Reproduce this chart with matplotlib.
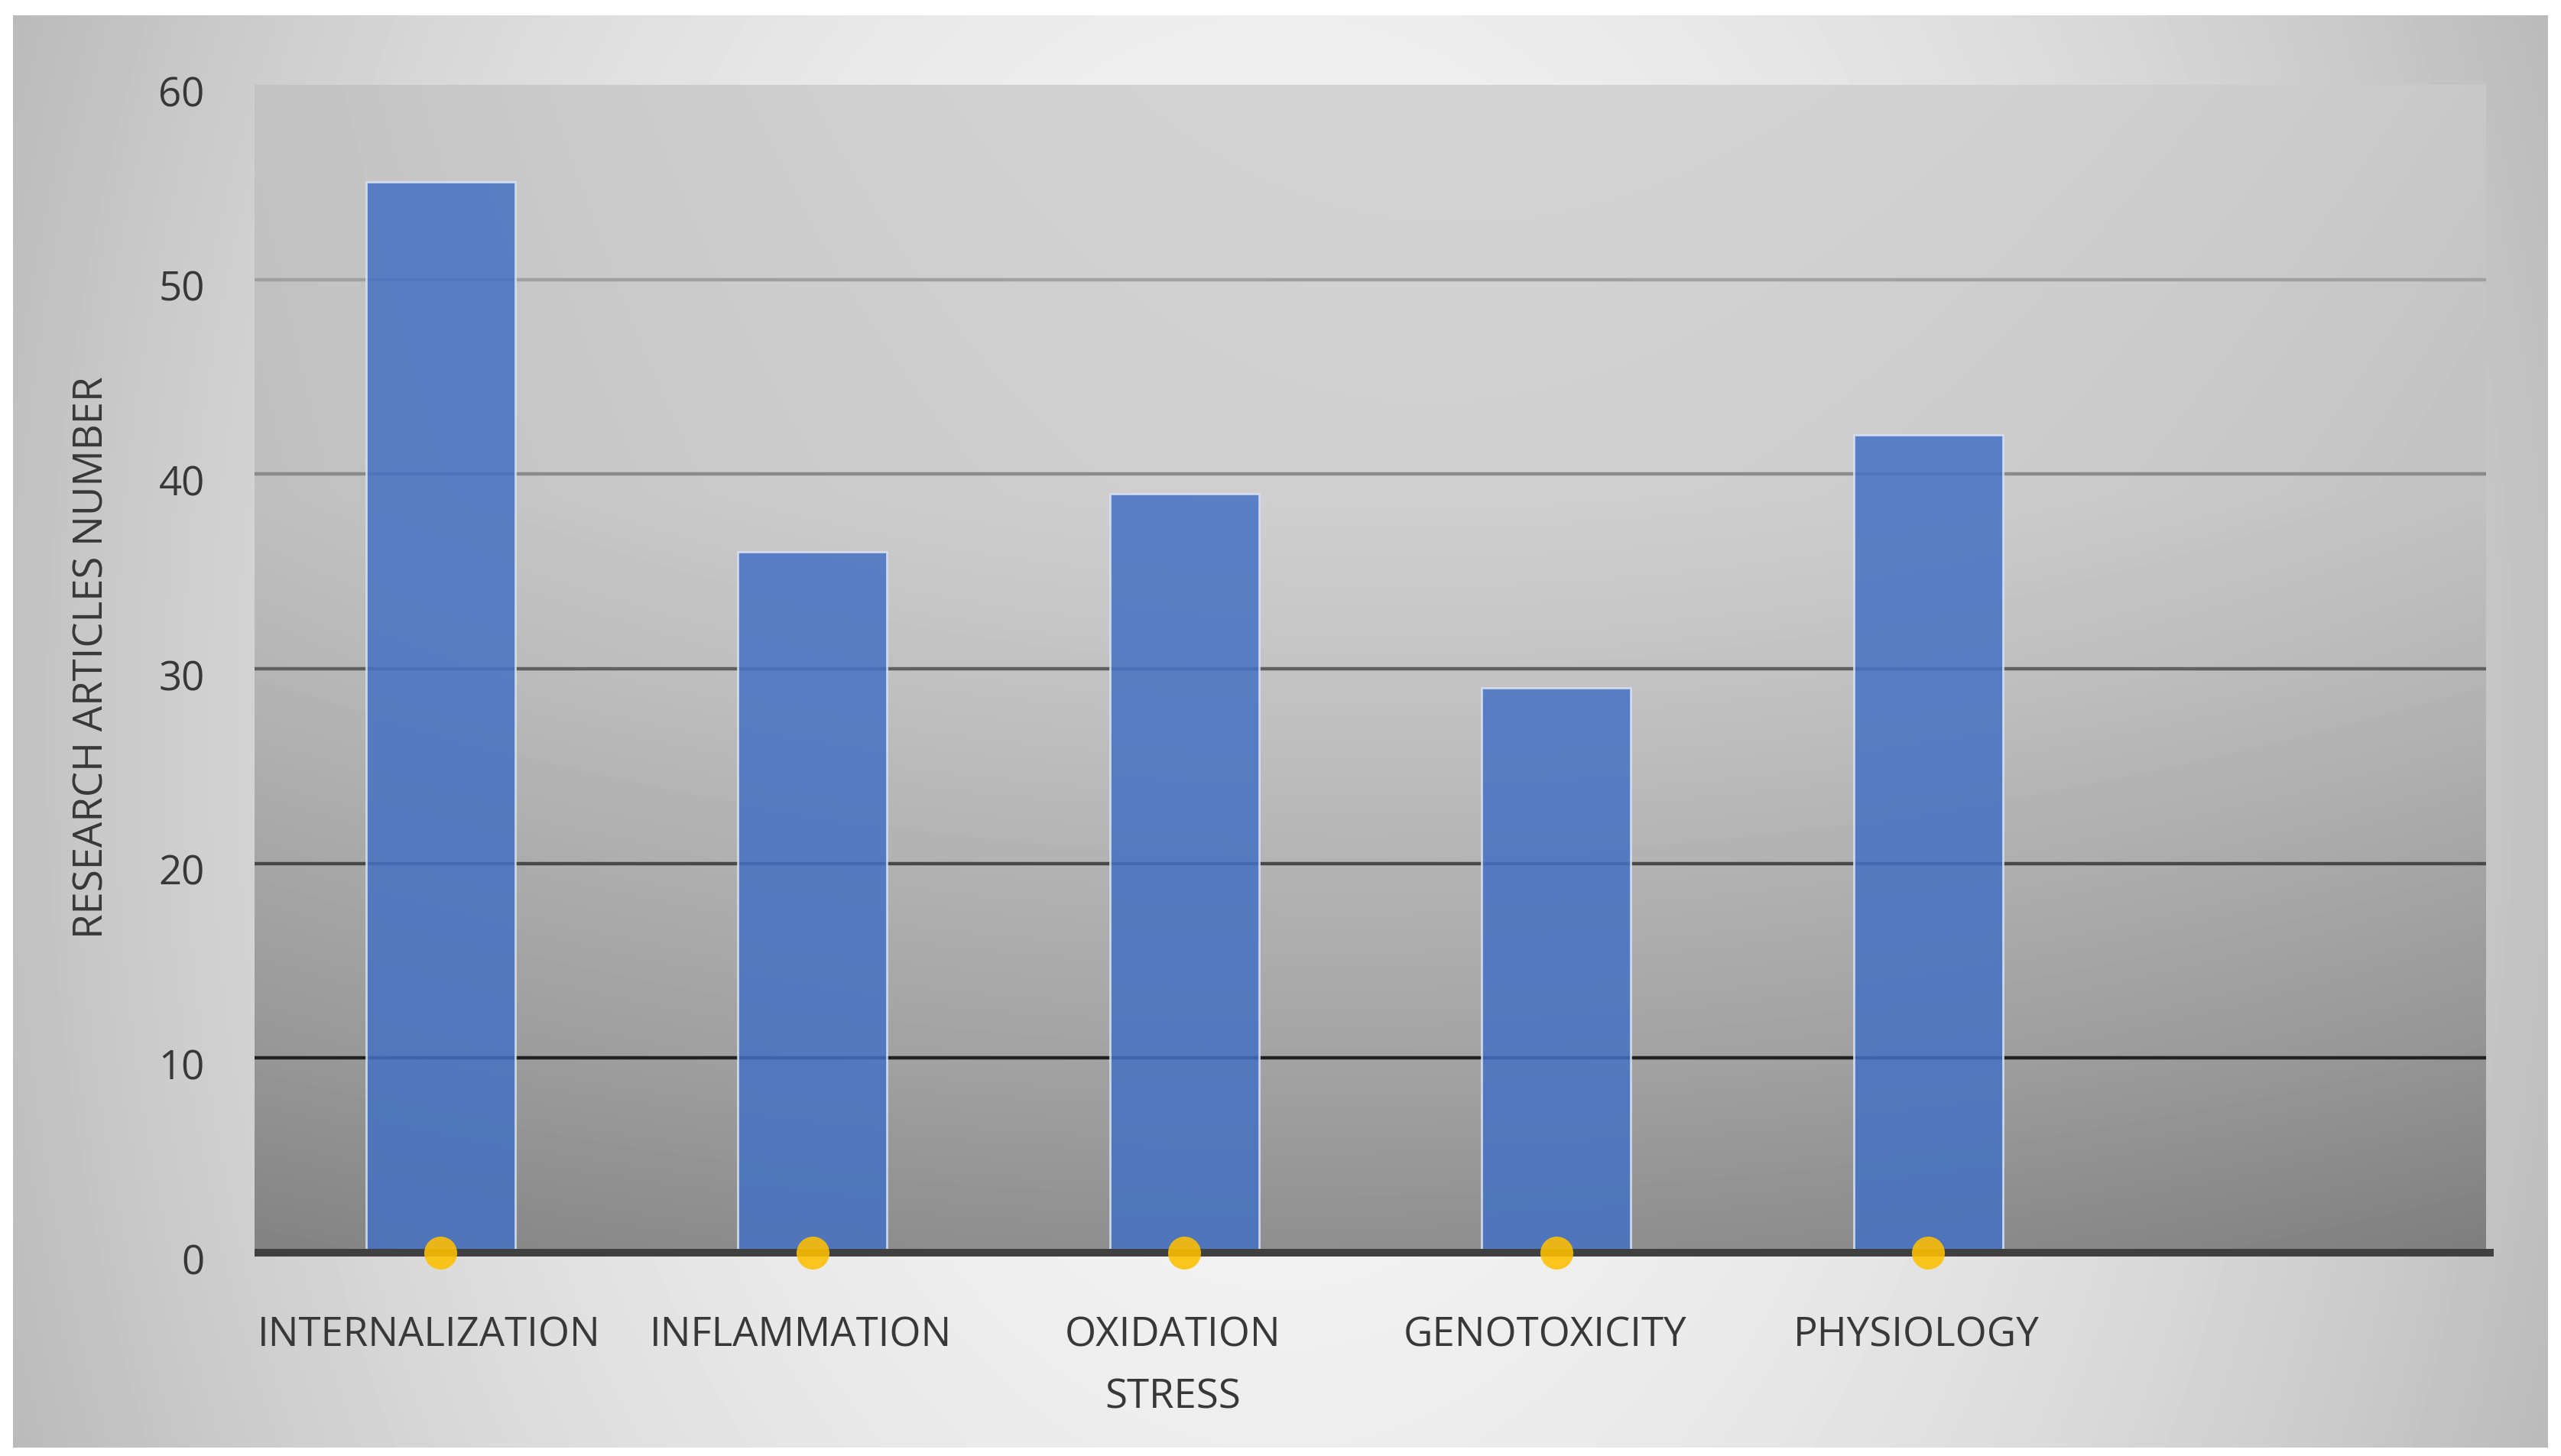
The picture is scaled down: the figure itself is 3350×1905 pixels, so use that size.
import matplotlib.pyplot as plt
import matplotlib.transforms as mtransforms
import numpy as np

categories = ["INTERNALIZATION", "INFLAMMATION", "OXIDATION\nSTRESS", "GENOTOXICITY", "PHYSIOLOGY"]
articles = [55, 36, 39, 29, 42]
zero_series = [0, 0, 0, 0, 0]
yticks = [0, 10, 20, 30, 40, 50, 60]

plt.rcParams['font.family'] = ['Open Sans', 'DejaVu Sans']
TEXT = '#383838'
W, H = 3350, 1906

fig = plt.figure(figsize=(W / 100, H / 100), dpi=100)
fig.patch.set_facecolor('white')

# chart area background: light in the middle, greyer to the sides
bg = fig.add_axes([17 / W, 1 - 1895 / H, (3333 - 17) / W, (1895 - 21) / H], zorder=-10)
xx, yy = np.meshgrid(np.linspace(-1, 1, 400), np.linspace(-1, 1, 240))
shade = 0.96 - 0.2 * xx ** 2 - 0.03 * yy ** 2
bg.imshow(shade, cmap='gray', vmin=0, vmax=1, aspect='auto', extent=(0, 1, 0, 1),
          interpolation='bicubic')
bg.axis('off')

# plot area
x0, x1, y0, y1 = 333, 3252, 1640, 112
ax = fig.add_axes([x0 / W, 1 - y0 / H, (x1 - x0) / W, (y0 - y1) / H])
ax.set_xlim(-0.5, 5.5)  # six category slots, the last one is empty
ax.set_ylim(0, 60)

t = np.linspace(0, 1, 300)[:, None]
u = np.linspace(0, 1, 600)[None, :]
vert = np.interp(t, [0, .35, .5, .83, 1], [.83, .82, .78, .66, .58])
plot_shade = vert - 0.07 * ((u - 0.55) / 0.55) ** 2 - 0.04 * u * t
ax.imshow(plot_shade, cmap='gray', vmin=0, vmax=1, extent=(-0.5, 5.5, 0, 60),
          aspect='auto', zorder=0, interpolation='bicubic')

# gridlines get darker toward the bottom
grid_colors = {10: '#222222', 20: '#484848', 30: '#606060', 40: '#8a8a8a', 50: '#a0a0a0'}
for level, c in grid_colors.items():
    ax.axhline(level, color=c, lw=3.2, zorder=1)

x = np.arange(len(categories))
ax.bar(x, articles, width=0.4, color='#4472C4', alpha=0.85, edgecolor='#dbe4f3',
       linewidth=2, zorder=2)
ax.plot([-0.5, 5.52], [0, 0], color='#404040', lw=7.2, clip_on=False, zorder=3,
        solid_capstyle='butt')
ax.plot(x, zero_series, 'o', ms=31, color='#FFC000', alpha=0.88, mec='none',
        clip_on=False, zorder=4)

for s in ax.spines.values():
    s.set_visible(False)

ax.set_yticks(yticks)
ax.set_yticklabels([str(v) for v in yticks])
ax.tick_params(axis='y', length=0, pad=47, labelsize=38, labelcolor=TEXT)
ax.set_xticks(x, categories)
ax.tick_params(axis='x', length=0, pad=58, labelsize=38, labelcolor=TEXT)

xoff = mtransforms.ScaledTranslation(-0.15, 0, fig.dpi_scale_trans)
for lbl in ax.get_xticklabels():
    lbl.set_linespacing(1.7)
    lbl.set_transform(lbl.get_transform() + xoff)
yoff = mtransforms.ScaledTranslation(0, -0.07, fig.dpi_scale_trans)
for lbl in ax.get_yticklabels():
    lbl.set_transform(lbl.get_transform() + yoff)

fig.text(121 / W, 1 - 860 / H, 'RESEARCH ARTICLES NUMBER', rotation=90,
         ha='center', va='center', fontsize=38, color=TEXT)

fig.savefig('out.png', dpi=100)
